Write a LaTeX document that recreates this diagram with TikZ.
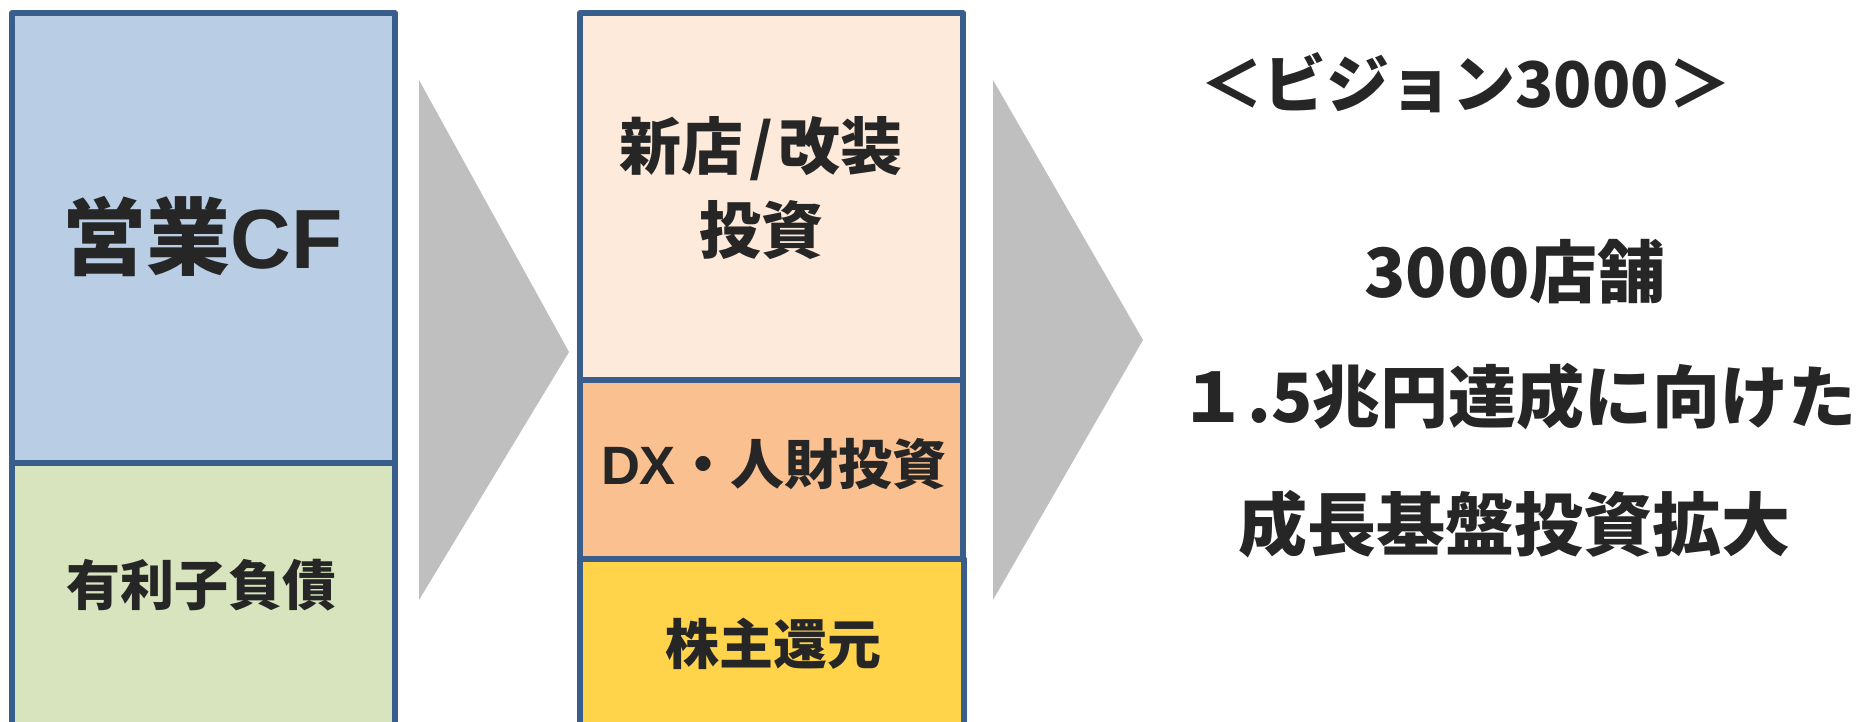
\documentclass[tikz,border=0pt]{standalone}
\usepackage{fontspec}
\newfontfamily\jp{Noto Sans CJK JP}
\newfontfamily\lat{Liberation Sans}
\definecolor{bordercol}{HTML}{3A5E8C}
\definecolor{cfblue}{HTML}{B9CDE5}
\definecolor{debtgreen}{HTML}{D7E4BD}
\definecolor{newpeach}{HTML}{FDEADA}
\definecolor{dxorange}{HTML}{FAC090}
\definecolor{retyellow}{HTML}{FFD44B}
\definecolor{arrowgray}{HTML}{BFBFBF}
\definecolor{txt}{HTML}{262626}
\tikzset{
  boxpart/.style={draw=bordercol, line width=5.5pt, rectangle, inner sep=0pt, outer sep=0pt, line join=round},
  lbl/.style={text=txt, inner sep=0pt, outer sep=0pt, align=center, font=\jp\bfseries},
  chevron/.style={fill=arrowgray, draw=none}
}
\begin{document}
\begin{tikzpicture}[x=1pt,y=-1pt]
\clip (0,0) rectangle (1857,721);
\fill[white] (0,0) rectangle (1857,721);

% left column
\node[boxpart, fill=cfblue, minimum width=383, minimum height=450] (cf) at (203.5,238) {};
\node[boxpart, fill=debtgreen, minimum width=383, minimum height=290] (debt) at (203.5,608) {};
\node[lbl, font=\jp\bfseries\fontsize{84}{96}\selectfont] (tcf) at (202.5,236) {営業{\lat\bfseries CF}};
\node[lbl, font=\jp\bfseries\fontsize{54}{64}\selectfont] (tdebt) at (201,585) {有利子負債};

% first chevron
\fill[chevron] (419,80) -- (569,352) -- (419,600) -- cycle;

% middle column
\node[boxpart, fill=newpeach, minimum width=383, minimum height=367] (newinv) at (771.5,196.5) {};
\node[boxpart, fill=dxorange, minimum width=383, minimum height=179] (dx) at (771.5,469.5) {};
\node[boxpart, fill=retyellow, minimum width=384, minimum height=180] (ret) at (772,649) {};
\node[lbl, font=\jp\bfseries\fontsize{62}{84}\selectfont] (tnew) at (761,188) {新店\kern6pt/\kern6pt改装\\投資};
\node[lbl, font=\jp\bfseries\fontsize{54}{64}\selectfont] (tdx) at (773.5,464) {{\lat\bfseries DX}・人財投資};
\node[lbl, font=\jp\bfseries\fontsize{54}{64}\selectfont] (tret) at (773,644) {株主還元};

% second chevron
\fill[chevron] (993,80) -- (1143,340) -- (993,600) -- cycle;

% right texts
\node[lbl, font=\jp\bfseries\fontsize{63}{72}\selectfont] (vision) at (1466,83) {＜ビジョン3000＞};
\node[lbl, font=\jp\bfseries\fontsize{68}{80}\selectfont] (stores) at (1515,272) {3000店舗};
\node[lbl, font=\jp\bfseries\fontsize{68}{80}\selectfont] (trillion) at (1518,397) {１.5兆円達成に向けた};
\node[lbl, font=\jp\bfseries\fontsize{69}{80}\selectfont] (growth) at (1514,524) {成長基盤投資拡大};
\end{tikzpicture}
\end{document}
